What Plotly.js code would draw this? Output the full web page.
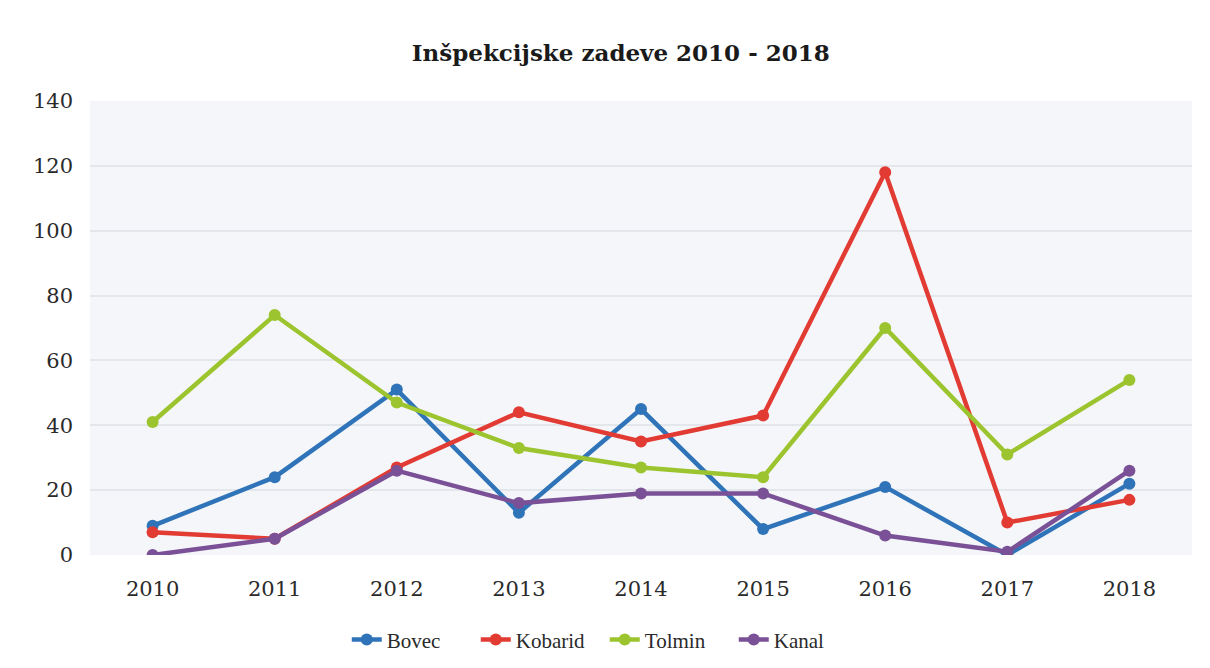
<!DOCTYPE html>
<html>
<head>
<meta charset="utf-8">
<script src="https://cdn.plot.ly/plotly-3.0.1.min.js"></script>
<style>html,body{margin:0;padding:0;background:#fff;}#chart{width:1210px;height:668px;}</style>
</head>
<body>
<div id="chart"></div>
<script>
const years = ["2010","2011","2012","2013","2014","2015","2016","2017","2018"];
const bovec   = [9, 24, 51, 13, 45, 8, 21, 0, 22];
const kobarid = [7, 5, 27, 44, 35, 43, 118, 10, 17];
const tolmin  = [41, 74, 47, 33, 27, 24, 70, 31, 54];
const kanal   = [0, 5, 26, 16, 19, 19, 6, 1, 26];
const yTicks  = [0, 20, 40, 60, 80, 100, 120, 140];

function series(name, y, color) {
  return {
    x: years, y: y, name: name, type: 'scatter', mode: 'lines+markers',
    line: {color: color, width: 4.5},
    marker: {color: color, size: 12}
  };
}
const data = [
  series('Bovec', bovec, '#2f73b8'),
  series('Kobarid', kobarid, '#e23b33'),
  series('Tolmin', tolmin, '#9cc42e'),
  series('Kanal', kanal, '#7a5096')
];
const serif = 'DejaVu Serif, Liberation Serif, serif';
const layout = {
  width: 1210, height: 668,
  paper_bgcolor: '#ffffff',
  plot_bgcolor: '#f4f6f9',
  margin: {l: 90, r: 18, t: 101, b: 113, autoexpand: false},
  title: {text: '<b>Inšpekcijske zadeve 2010 - 2018</b>', x: 0.513, xanchor: 'center', y: 0.92, yanchor: 'middle',
          font: {family: serif, size: 23, color: '#1a1a1a'}},
  font: {family: serif, color: '#2a2a2a'},
  xaxis: {type: 'category', showgrid: false, zeroline: false, showline: false, ticks: '',
          tickfont: {size: 21, color: '#2a2a2a'}, ticklabelstandoff: 19, automargin: false},
  yaxis: {range: [0, 140], tickvals: yTicks, showgrid: true, gridcolor: '#e3e6ea', gridwidth: 2,
          zeroline: false, showline: false, ticks: '',
          tickfont: {size: 21, color: '#2a2a2a'}, ticklabelstandoff: 16, automargin: false},
  legend: {orientation: 'h', x: 0.233, xanchor: 'left', y: -0.187, yanchor: 'middle',
           font: {family: 'Liberation Serif, serif', size: 21, color: '#2a2a2a'}, traceorder: 'normal',
           entrywidth: 84, entrywidthmode: 'pixels'},
  showlegend: true
};
Plotly.newPlot('chart', data, layout, {displayModeBar: false, staticPlot: true});
</script>
</body>
</html>
